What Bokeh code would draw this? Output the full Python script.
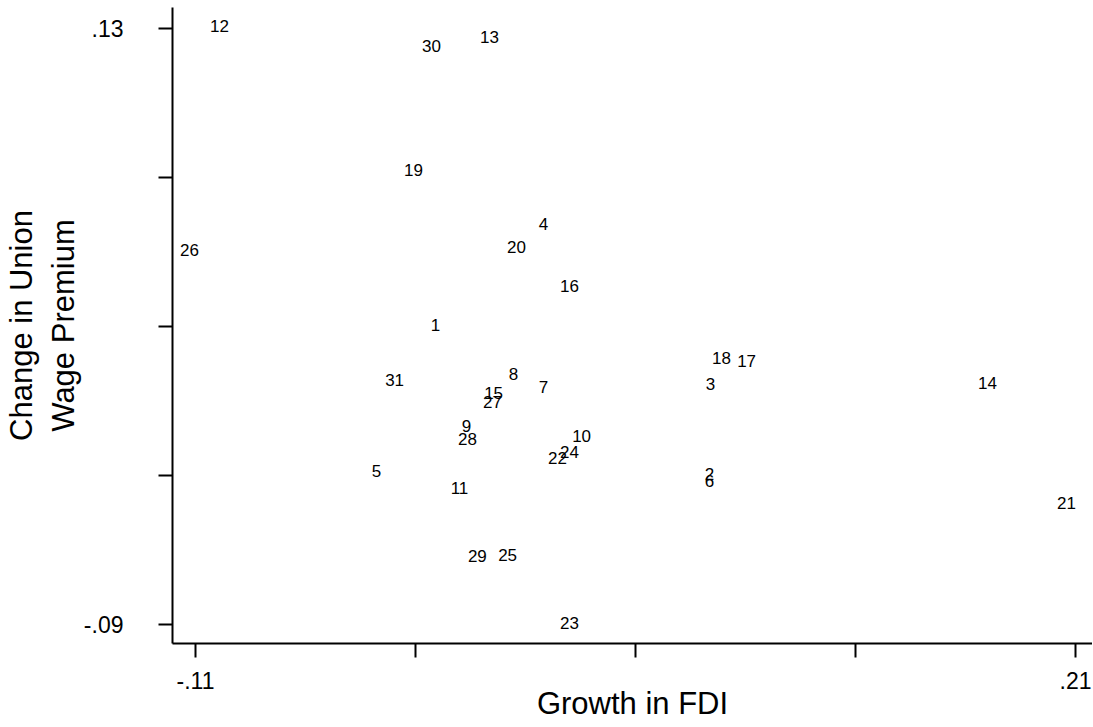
from bokeh.plotting import figure
from bokeh.models import ColumnDataSource, FixedTicker, Range1d
from bokeh.core.properties import value
from bokeh.embed import file_html
from bokeh.resources import INLINE

# Data: industry id, growth in FDI, change in union wage premium
ids = [str(i) for i in range(1, 32)]
fdi_growth = [-0.0227, 0.0769, 0.0773, 0.0165, -0.0442, 0.0769, 0.0165, 0.0056, -0.0115, 0.0304,
              -0.0140, -0.1013, -0.0031, 0.1780, -0.0016, 0.0260, 0.0904, 0.0813, -0.0307, 0.0067,
              0.2067, 0.0216, 0.0260, 0.0260, 0.0035, -0.1122, -0.0020, -0.0111, -0.0075, -0.0242,
              -0.0376]
premium_change = [0.0207, -0.0346, -0.0014, 0.0577, -0.0332, -0.0372, -0.0022, 0.0023, -0.0169, -0.0206,
                  -0.0398, 0.1311, 0.1270, -0.0007, -0.0047, 0.0348, 0.0074, 0.0082, 0.0776, 0.0495,
                  -0.0453, -0.0287, -0.0893, -0.0265, -0.0642, 0.0481, -0.0077, -0.0214, -0.0649, 0.1234,
                  0.0001]

x_ticks = [-0.11, -0.03, 0.05, 0.13, 0.21]
x_tick_labels = ["-.11", "", "", "", ".21"]
y_ticks = [-0.09, -0.035, 0.02, 0.075, 0.13]
y_tick_labels = ["-.09", "", "", "", ".13"]

x_title = "Growth in FDI"
y_title = "Change in Union\nWage Premium"

FONT = "Liberation Sans"

source = ColumnDataSource(data=dict(x=fdi_growth, y=premium_change, label=ids))

p = figure(width=1092, height=726, output_backend="svg", toolbar_location=None,
           x_range=Range1d(-0.11836, 0.21618), y_range=Range1d(-0.09702, 0.13775),
           min_border_left=172, min_border_right=0, min_border_top=7, min_border_bottom=83)

p.text(x="x", y="y", text="label", source=source, text_align="center", text_baseline="middle",
       text_font=value(FONT), text_font_size="17px", text_color="black")

p.outline_line_color = None
p.grid.visible = False
p.background_fill_color = "white"
p.border_fill_color = "white"

p.xaxis.ticker = FixedTicker(ticks=x_ticks)
p.xaxis.major_label_overrides = dict(zip(x_ticks, x_tick_labels))
p.yaxis.ticker = FixedTicker(ticks=y_ticks)
p.yaxis.major_label_overrides = dict(zip(y_ticks, y_tick_labels))

for ax in (p.xaxis[0], p.yaxis[0]):
    ax.axis_line_color = "black"
    ax.axis_line_width = 2
    ax.major_tick_line_color = "black"
    ax.major_tick_line_width = 2
    ax.major_tick_in = 0
    ax.major_tick_out = 14
    ax.minor_tick_line_color = None
    ax.major_label_text_font = FONT
    ax.major_label_text_font_size = "23px"
    ax.major_label_text_color = "black"
    ax.axis_label_text_font = FONT
    ax.axis_label_text_font_size = "31px"
    ax.axis_label_text_font_style = "normal"
    ax.axis_label_text_color = "black"

p.xaxis.axis_label = x_title
p.xaxis.major_label_standoff = 14
p.xaxis.axis_label_standoff = -6
p.yaxis.axis_label = y_title
p.yaxis.major_label_standoff = 35
p.yaxis.axis_label_standoff = 0
p.yaxis.major_label_orientation = "horizontal"

open("out.html", "w").write(file_html(p, INLINE))
